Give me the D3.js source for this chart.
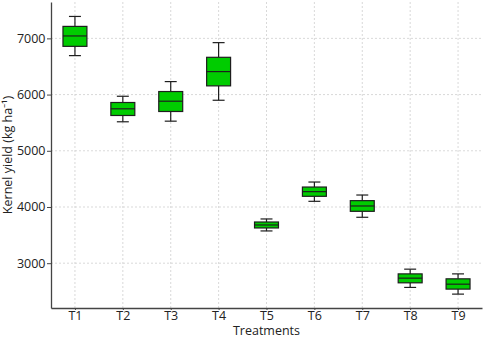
<!DOCTYPE html>
<html><head><meta charset="utf-8">
<script src="https://cdn.jsdelivr.net/npm/d3@7"></script>
<style>body{margin:0;background:#fff}svg{display:block}text{font-family:"Open Sans",sans-serif;fill:#222}</style>
</head><body><div id="chart"></div>
<script>
const categories = ["T1","T2","T3","T4","T5","T6","T7","T8","T9"];
const whiskerLow  = [6693,5516,5527,5899,3574,4101,3817,2569,2450];
const q1          = [6858,5628,5699,6155,3627,4190,3923,2651,2539];
const median      = [7043,5747,5882,6409,3680,4273,4018,2734,2627];
const q3          = [7213,5859,6054,6663,3733,4355,4113,2810,2722];
const whiskerHigh = [7390,5970,6231,6924,3787,4444,4213,2894,2810];
const yTicks = [3000,4000,5000,6000,7000];
const xLabel = "Treatments";
const yLabel = "Kernel yield (kg ha\u207B\u00B9)";

const W = 484, H = 338;
const m = {left:51, right:2, top:2, bottom:30};
const FS = 12.5;
const svg = d3.select("#chart").append("svg").attr("width",W).attr("height",H);
const x = d3.scaleLinear().domain([0.5,9.5]).range([m.left, W-m.right]);
const y = d3.scaleLinear().domain([2203,7647]).range([H-m.bottom, m.top]);
const data = categories.map((c,i)=>({c, pos:i+1, lo:whiskerLow[i], q1:q1[i], med:median[i], q3:q3[i], hi:whiskerHigh[i]}));

// grid
const g = svg.append("g");
g.selectAll(".gy").data(yTicks).join("line")
  .attr("x1",m.left).attr("x2",W-m.right).attr("y1",d=>y(d)).attr("y2",d=>y(d))
  .attr("stroke","#cfcfcf").attr("stroke-width",0.8).attr("stroke-dasharray","2,2");
g.selectAll(".gx").data(data).join("line")
  .attr("x1",d=>x(d.pos)).attr("x2",d=>x(d.pos)).attr("y1",m.top).attr("y2",H-m.bottom)
  .attr("stroke","#cfcfcf").attr("stroke-width",0.8).attr("stroke-dasharray","2,2");

// boxes
const bw = x(1.25)-x(1), cw = x(1.125)-x(1);
const b = svg.append("g").selectAll("g").data(data).join("g");
const st = "#1e1e1e", sw = 1.2;
b.append("line").attr("x1",d=>x(d.pos)).attr("x2",d=>x(d.pos)).attr("y1",d=>y(d.hi)).attr("y2",d=>y(d.q3)).attr("stroke",st).attr("stroke-width",sw);
b.append("line").attr("x1",d=>x(d.pos)).attr("x2",d=>x(d.pos)).attr("y1",d=>y(d.q1)).attr("y2",d=>y(d.lo)).attr("stroke",st).attr("stroke-width",sw);
b.append("line").attr("x1",d=>x(d.pos)-cw).attr("x2",d=>x(d.pos)+cw).attr("y1",d=>y(d.hi)).attr("y2",d=>y(d.hi)).attr("stroke",st).attr("stroke-width",sw);
b.append("line").attr("x1",d=>x(d.pos)-cw).attr("x2",d=>x(d.pos)+cw).attr("y1",d=>y(d.lo)).attr("y2",d=>y(d.lo)).attr("stroke",st).attr("stroke-width",sw);
b.append("rect").attr("x",d=>x(d.pos)-bw).attr("width",2*bw).attr("y",d=>y(d.q3)).attr("height",d=>y(d.q1)-y(d.q3))
  .attr("fill","#00cc00").attr("stroke",st).attr("stroke-width",sw);
b.append("line").attr("x1",d=>x(d.pos)-bw).attr("x2",d=>x(d.pos)+bw).attr("y1",d=>y(d.med)).attr("y2",d=>y(d.med)).attr("stroke",st).attr("stroke-width",sw);

// axes
const xa = svg.append("g").attr("transform",`translate(0,${H-m.bottom})`)
  .call(d3.axisBottom(x).tickValues(data.map(d=>d.pos)).tickFormat((d,i)=>categories[i]).tickSize(2).tickPadding(1.5).tickSizeOuter(0));
const ya = svg.append("g").attr("transform",`translate(${m.left},0)`)
  .call(d3.axisLeft(y).tickValues(yTicks).tickFormat(d3.format("d")).tickSize(4).tickPadding(1.5).tickSizeOuter(0));
[xa,ya].forEach(a=>{
  a.select(".domain").attr("stroke","#444").attr("stroke-width",1.3);
  a.selectAll(".tick line").attr("stroke","#444");
  a.selectAll("text").attr("font-size",FS).attr("font-family","Open Sans").attr("fill","#222");
});
svg.append("text").attr("x",(m.left+W-m.right)/2).attr("y",334.5).attr("text-anchor","middle").attr("font-size",FS).text(xLabel);
svg.append("text").attr("transform",`translate(11.5,${(m.top+H-m.bottom)/2}) rotate(-90)`).attr("text-anchor","middle").attr("font-size",FS).text(yLabel);
</script></body></html>
